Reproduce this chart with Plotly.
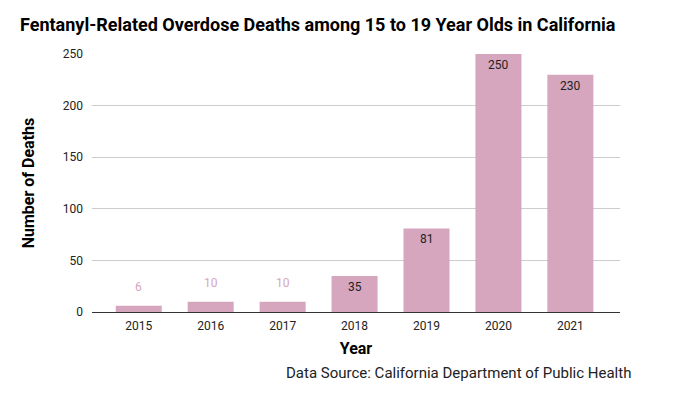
import plotly.graph_objects as go

years = [2015, 2016, 2017, 2018, 2019, 2020, 2021]
deaths = [6, 10, 10, 35, 81, 250, 230]
y_ticks = [0, 50, 100, 150, 200, 250]

BAR = "#d5a6bd"
FONT = "Roboto, Arial, sans-serif"

fig = go.Figure()
fig.add_trace(go.Bar(x=years, y=deaths, width=0.64,
                     marker=dict(color=BAR, line=dict(width=0)),
                     hoverinfo="x+y"))

for yr, v in zip(years, deaths):
    outside = v < 30
    fig.add_annotation(x=yr, y=v, text=str(v), showarrow=False, xref="x", yref="y",
                       yanchor="middle", yshift=19 if outside else -11,
                       font=dict(family=FONT, size=12, color=BAR if outside else "#222222"))

fig.add_annotation(text="Data Source: California Department of Public Health",
                   xref="paper", yref="paper", x=1.025, y=-0.236, xanchor="right",
                   yanchor="middle", showarrow=False,
                   font=dict(family=FONT, size=15, color="#222222"))

fig.update_layout(
    width=681, height=401,
    margin=dict(l=84, r=69, t=46, b=97),
    paper_bgcolor="white", plot_bgcolor="white",
    showlegend=False,
    font=dict(family=FONT, color="#222222"),
    title=dict(text="<b>Fentanyl-Related Overdose Deaths among 15 to 19 Year Olds in California</b>",
               x=12 / 681, xref="container", xanchor="left", y=1 - 17 / 401, yref="container",
               yanchor="middle", font=dict(family=FONT, size=18, color="#000000")),
    xaxis=dict(type="linear", range=[2014.35, 2021.69], tickvals=years,
               title=dict(text="<b>Year</b>", font=dict(size=16, color="#000000"), standoff=11),
               showline=True, linecolor="#333333", linewidth=1.2, ticks="",
               ticklabelstandoff=2,
               tickfont=dict(size=12, color="#222222"), showgrid=False, zeroline=False),
    yaxis=dict(title=dict(text="<b>Number of Deaths</b>", font=dict(size=16, color="#000000"), standoff=24),
               range=[0, 250], tickvals=y_ticks, showgrid=True, gridcolor="#cccccc",
               showline=False, ticklabelstandoff=8,
               zeroline=False, ticks="", tickfont=dict(size=12, color="#222222")),
)

fig.write_html("out.html")
